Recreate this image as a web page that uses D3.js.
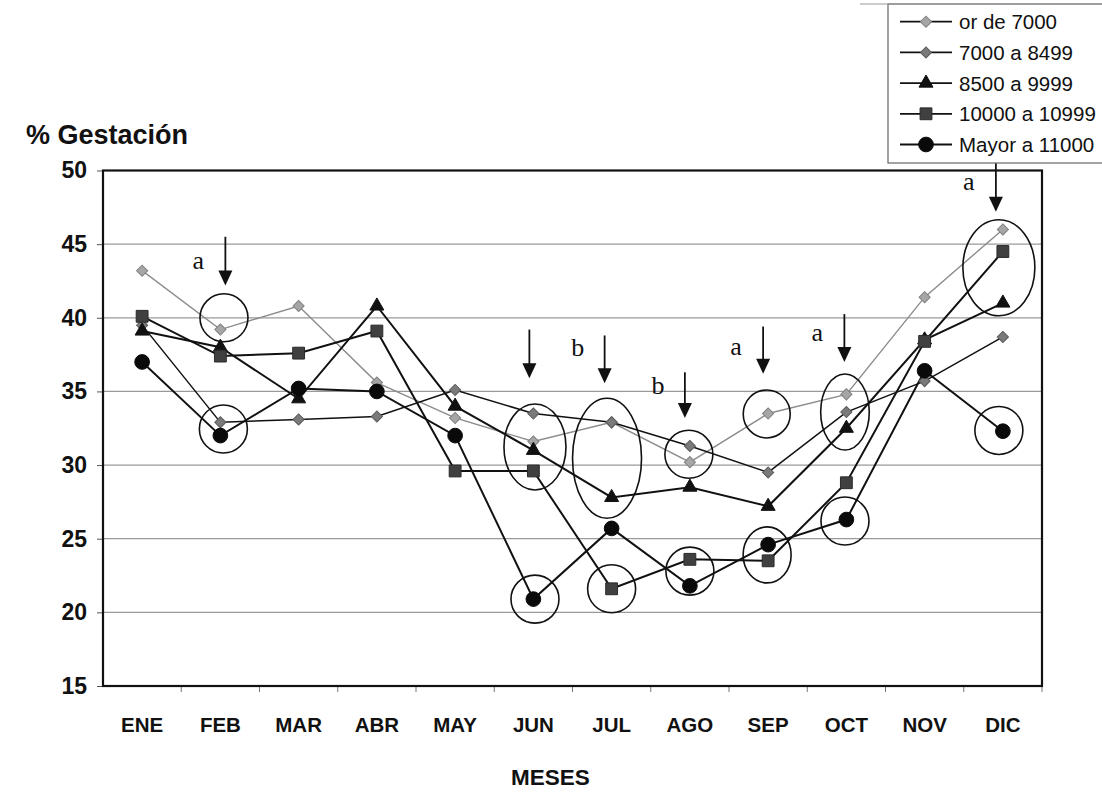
<!DOCTYPE html>
<html><head><meta charset="utf-8">
<script src="https://cdn.jsdelivr.net/npm/d3@7"></script>
<style>
html,body{margin:0;padding:0;background:#fff;}
svg{display:block;font-family:"Liberation Sans",Arial,sans-serif;}
</style></head>
<body>
<svg id="chart" width="1102" height="799"></svg>
<script>
// ---- data ----
const months = ["ENE","FEB","MAR","ABR","MAY","JUN","JUL","AGO","SEP","OCT","NOV","DIC"];
const seriesNames = ["or de 7000","7000 a 8499","8500 a 9999","10000 a 10999","Mayor a 11000"];
const menor7000   = [43.2, 39.2, 40.8, 35.6, 33.2, 31.6, 32.9, 30.2, 33.5, 34.8, 41.4, 46.0];
const de7000a8499 = [39.5, 32.9, 33.1, 33.3, 35.1, 33.5, 32.9, 31.3, 29.5, 33.6, 35.7, 38.7];
const de8500a9999 = [39.1, 38.0, 34.5, 40.8, 34.0, 31.0, 27.8, 28.5, 27.2, 32.5, 38.5, 41.0];
const de10000a10999 = [40.1, 37.4, 37.6, 39.1, 29.6, 29.6, 21.6, 23.6, 23.5, 28.8, 38.4, 44.5];
const mayor11000  = [37.0, 32.0, 35.2, 35.0, 32.0, 20.9, 25.7, 21.8, 24.6, 26.3, 36.4, 32.3];
const yTicks = [15, 20, 25, 30, 35, 40, 45, 50];

// annotations (arrows + letters), in data units
const annMonths = ["FEB","JUN","JUL","AGO","SEP","OCT","DIC"];
const annTop    = [45.5, 39.2, 38.8, 36.3, 39.4, 40.25, 50.5];
const annTip    = [42.2, 35.9, 35.55, 33.2, 36.2, 37.0, 47.2];
const annLetter = ["a", "", "b", "b", "a", "a", "a"];
const annLetterY= [43.3, 0, 37.4, 34.8, 37.5, 38.4, 48.7];
const annDx     = [5, -4, -7, -5, -5, -2, -7];

// ellipses around highlighted points
const ellMonths = ["FEB","FEB","JUN","JUN","JUL","JUL","AGO","AGO","SEP","SEP","OCT","OCT","DIC","DIC"];
const ellCy     = [40.0, 32.45, 31.23, 20.9, 30.46, 21.6, 30.73, 22.8, 33.47, 23.9, 33.6, 26.2, 43.4, 32.35];
const ellRx     = [24, 24, 31, 24, 34.5, 24, 24, 24, 23.5, 24, 24.3, 24, 36, 24];
const ellRy     = [24, 24, 43, 24, 60, 24, 24, 24, 24, 28, 38, 24, 48, 24];
const ellDx     = [3.6, 3, 1.6, 1.6, -4.6, 0, -1, 0, -1.4, -1, -1.4, -1.4, -4, -4];

// ---- layout ----
const svg = d3.select("#chart");
const L = 103, R = 1042, T = 170.5, B = 686;
const x = d3.scaleBand().domain(months).range([L, R]).padding(0);
const y = d3.scaleLinear().domain([15, 50]).range([B, T]);
const cx = m => x(m) + x.bandwidth() / 2;

// gridlines
svg.append("g").selectAll("line").data(yTicks.filter(v => v > 15 && v < 50)).join("line")
  .attr("x1", L).attr("x2", R).attr("y1", d => y(d)).attr("y2", d => y(d))
  .attr("stroke", "#9a9a9a").attr("stroke-width", 1.2);

// axes
const yAxis = d3.axisLeft(y).tickValues(yTicks).tickSize(6).tickPadding(10);
const gy = svg.append("g").attr("transform", `translate(${L},0)`).call(yAxis);
gy.select(".domain").remove();
gy.selectAll(".tick line").attr("stroke", "#555");
gy.selectAll(".tick text").attr("font-size", 23).attr("font-weight", "bold").attr("fill", "#111")
  .attr("font-family", "Liberation Sans, Arial, sans-serif");

const xAxis = d3.axisBottom(x).tickSize(0).tickPadding(31);
const gx = svg.append("g").attr("transform", `translate(0,${B})`).call(xAxis);
gx.select(".domain").remove();
gx.selectAll(".tick text").attr("font-size", 20.5).attr("font-weight", "bold").attr("fill", "#111")
  .attr("font-family", "Liberation Sans, Arial, sans-serif");
// boundary ticks on x
svg.append("g").selectAll("line").data(months.slice(1).concat(["_end"])).join("line")
  .attr("x1", d => d === "_end" ? R : x(d)).attr("x2", d => d === "_end" ? R : x(d))
  .attr("y1", B).attr("y2", B + 6).attr("stroke", "#777").attr("stroke-width", 1);

// plot frame
svg.append("rect").attr("x", L).attr("y", T).attr("width", R - L).attr("height", B - T)
  .attr("fill", "none").attr("stroke", "#111").attr("stroke-width", 2.2);

// titles
svg.append("text").attr("x", 26).attr("y", 144).text("% Gestación")
  .attr("font-size", 27).attr("font-weight", "bold").attr("fill", "#111");
svg.append("text").attr("x", (L + R) / 2 - 22).attr("y", 785).attr("text-anchor", "middle").text("MESES")
  .attr("font-size", 22.5).attr("font-weight", "bold").attr("fill", "#111");

// series definitions
const diamond = d3.symbol().type(d3.symbolSquare).size(62);
const series = [
  {name: seriesNames[0], values: menor7000, line: "#8c8c8c", lw: 1.4, sym: diamond, rot: 45, fill: "#a6a6a6", stroke: "#808080"},
  {name: seriesNames[1], values: de7000a8499, line: "#111", lw: 1.5, sym: diamond, rot: 45, fill: "#7a7a7a", stroke: "#5a5a5a"},
  {name: seriesNames[2], values: de8500a9999, line: "#111", lw: 2, sym: d3.symbol().type(d3.symbolTriangle).size(85), rot: 0, fill: "#111", stroke: "#111"},
  {name: seriesNames[3], values: de10000a10999, line: "#111", lw: 2, sym: d3.symbol().type(d3.symbolSquare).size(140), rot: 0, fill: "#404040", stroke: "#2a2a2a"},
  {name: seriesNames[4], values: mayor11000, line: "#111", lw: 2, sym: d3.symbol().type(d3.symbolCircle).size(170), rot: 0, fill: "#0a0a0a", stroke: "#0a0a0a"}
];

const lineGen = d3.line().x((d, i) => cx(months[i])).y(d => y(d));
series.forEach(s => {
  svg.append("path").datum(s.values).attr("d", lineGen)
    .attr("fill", "none").attr("stroke", s.line).attr("stroke-width", s.lw);
});
series.forEach(s => {
  svg.append("g").selectAll("path").data(s.values).join("path")
    .attr("d", s.sym())
    .attr("transform", (d, i) => `translate(${cx(months[i])},${y(d)}) rotate(${s.rot})`)
    .attr("fill", s.fill).attr("stroke", s.stroke).attr("stroke-width", 1);
});

// ellipses
svg.append("g").selectAll("ellipse").data(ellMonths).join("ellipse")
  .attr("cx", (m, i) => cx(m) + ellDx[i]).attr("cy", (m, i) => y(ellCy[i]))
  .attr("rx", (m, i) => ellRx[i]).attr("ry", (m, i) => ellRy[i])
  .attr("fill", "none").attr("stroke", "#111").attr("stroke-width", 1.6);

// arrows
const ga = svg.append("g");
annMonths.forEach((m, i) => {
  const ax = cx(m) + annDx[i];
  const y0 = y(annTop[i]), y1 = y(annTip[i]);
  ga.append("line").attr("x1", ax).attr("x2", ax).attr("y1", y0).attr("y2", y1 - 12)
    .attr("stroke", "#111").attr("stroke-width", 1.8);
  ga.append("path").attr("d", `M${ax - 7},${y1 - 15} L${ax + 7},${y1 - 15} L${ax},${y1} Z`).attr("fill", "#111");
  if (annLetter[i]) {
    ga.append("text").attr("x", ax - 27).attr("y", y(annLetterY[i])).attr("text-anchor", "middle")
      .attr("font-family", "Liberation Serif, Times New Roman, serif").attr("font-size", 26)
      .attr("fill", "#111").text(annLetter[i]);
  }
});

// legend
const lg = svg.append("g");
lg.append("rect").attr("x", 888).attr("y", 4).attr("width", 230).attr("height", 159)
  .attr("fill", "#fff").attr("stroke", "#666").attr("stroke-width", 1.2);
svg.append("line").attr("x1", 860).attr("x2", 1102).attr("y1", 4).attr("y2", 4).attr("stroke", "#999");
series.forEach((s, i) => {
  const ly = 21.7 + i * 30.7;
  lg.append("line").attr("x1", 900).attr("x2", 952).attr("y1", ly).attr("y2", ly)
    .attr("stroke", "#111").attr("stroke-width", 1.8);
  lg.append("path").attr("d", s.sym()).attr("transform", `translate(926,${ly}) rotate(${s.rot})`)
    .attr("fill", s.fill).attr("stroke", s.stroke);
  lg.append("text").attr("x", 959).attr("y", ly + 7.5).text(s.name)
    .attr("font-size", 20.5).attr("fill", "#111");
});
</script>
</body></html>
